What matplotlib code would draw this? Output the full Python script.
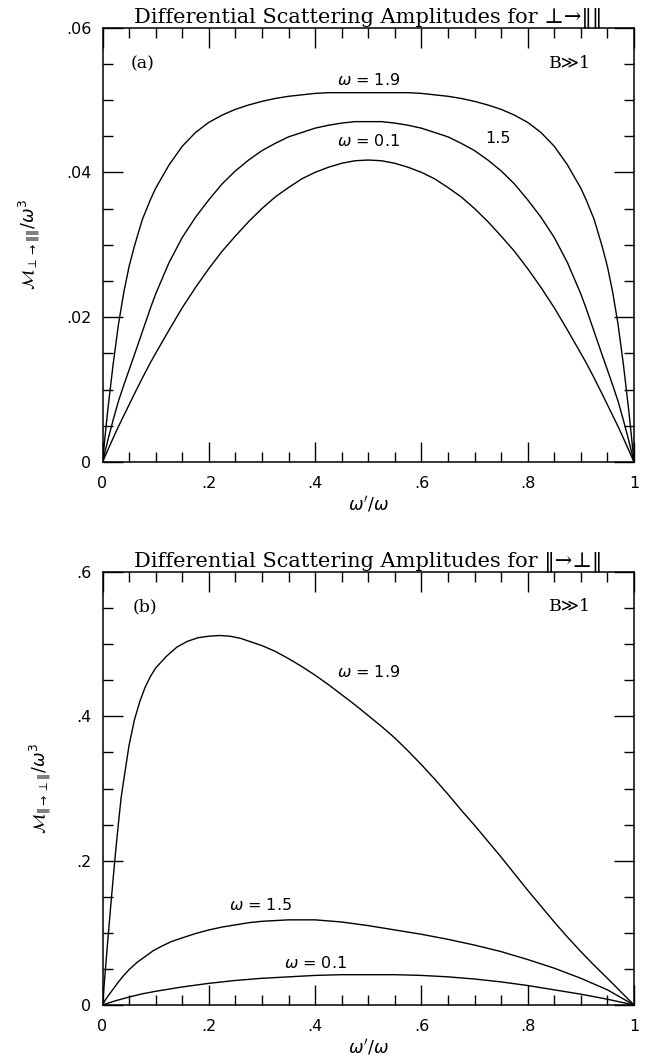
import matplotlib
matplotlib.use("Agg")
import matplotlib.pyplot as plt
from matplotlib.ticker import MultipleLocator, FuncFormatter

# ---------------- data ----------------
# Panel (a): perp -> par (curves are symmetric about 0.5)
xa = [0, 0.005, 0.01, 0.02, 0.03, 0.04, 0.05, 0.06, 0.075, 0.09, 0.1, 0.125, 0.15, 0.175, 0.2, 0.225,
      0.25, 0.275, 0.3, 0.325, 0.35, 0.375, 0.4, 0.425, 0.45, 0.475, 0.5,
      0.525, 0.55, 0.575, 0.6, 0.625, 0.65, 0.675, 0.7, 0.725, 0.75, 0.775, 0.8, 0.825, 0.85, 0.875,
      0.9, 0.91, 0.925, 0.94, 0.95, 0.96, 0.97, 0.98, 0.99, 0.995, 1.0]
a_w19 = [0, 0.0037, 0.0072, 0.0135, 0.019, 0.0234, 0.027, 0.0298, 0.0335, 0.0362, 0.0378, 0.041, 0.0436,
         0.0455, 0.0469, 0.0479, 0.0487, 0.0493, 0.0498, 0.0502, 0.0505, 0.0507, 0.0509, 0.0510, 0.0510,
         0.0510, 0.0510,
         0.0510, 0.0510, 0.0510, 0.0509, 0.0507, 0.0505, 0.0502, 0.0498, 0.0493, 0.0487, 0.0479, 0.0469,
         0.0455, 0.0436, 0.041, 0.0378, 0.0362, 0.0335, 0.0298, 0.027, 0.0234, 0.019, 0.0135, 0.0072,
         0.0037, 0]
a_w15 = [0, 0.0015, 0.003, 0.0058, 0.0084, 0.0106, 0.0127, 0.0148, 0.018, 0.0212, 0.0232, 0.0275, 0.031,
         0.0338, 0.0362, 0.0384, 0.0402, 0.0417, 0.0430, 0.0440, 0.0449, 0.0455, 0.0461, 0.0465, 0.0468,
         0.0470, 0.0470,
         0.0470, 0.0468, 0.0465, 0.0461, 0.0455, 0.0449, 0.0440, 0.0430, 0.0417, 0.0402, 0.0384, 0.0362,
         0.0338, 0.031, 0.0275, 0.0232, 0.0212, 0.018, 0.0148, 0.0127, 0.0106, 0.0084, 0.0058, 0.003,
         0.0015, 0]
a_w01 = [0, 0.00083, 0.00165, 0.0033, 0.0049, 0.0064, 0.0079, 0.0094, 0.0116, 0.0137, 0.015, 0.0182,
         0.0213, 0.0241, 0.0267, 0.0291, 0.0312, 0.0332, 0.035, 0.0366, 0.0379, 0.0391, 0.0400, 0.0407,
         0.04125, 0.0416, 0.0417,
         0.0416, 0.04125, 0.0407, 0.0400, 0.0391, 0.0379, 0.0366, 0.035, 0.0332, 0.0312, 0.0291, 0.0267,
         0.0241, 0.0213, 0.0182, 0.015, 0.0137, 0.0116, 0.0094, 0.0079, 0.0064, 0.0049, 0.0033, 0.00165,
         0.00083, 0]

# Panel (b): par -> perp
xb19 = [0, 0.005, 0.01, 0.015, 0.02, 0.025, 0.03, 0.035, 0.04, 0.05, 0.06, 0.07, 0.08, 0.09, 0.1, 0.12,
        0.14, 0.16, 0.18, 0.2, 0.22, 0.24, 0.26, 0.28, 0.3, 0.325, 0.35, 0.375, 0.4, 0.425, 0.45, 0.475,
        0.5, 0.525, 0.55, 0.575, 0.6, 0.625, 0.65, 0.675, 0.7, 0.725, 0.75, 0.775, 0.8, 0.825, 0.85,
        0.875, 0.9, 0.925, 0.95, 0.975, 1.0]
b_w19 = [0, 0.045, 0.09, 0.133, 0.175, 0.215, 0.252, 0.287, 0.312, 0.36, 0.395, 0.42, 0.44, 0.455, 0.467,
         0.483, 0.496, 0.504, 0.509, 0.511, 0.512, 0.511, 0.508, 0.503, 0.498, 0.490, 0.480, 0.469, 0.457,
         0.444, 0.430, 0.416, 0.401, 0.386, 0.370, 0.352, 0.333, 0.313, 0.292, 0.270, 0.249, 0.227, 0.205,
         0.182, 0.159, 0.137, 0.115, 0.094, 0.074, 0.055, 0.037, 0.0185, 0]
xb15 = [0, 0.005, 0.01, 0.02, 0.03, 0.04, 0.05, 0.065, 0.08, 0.095, 0.11, 0.13, 0.15, 0.175, 0.2, 0.225,
        0.25, 0.275, 0.3, 0.325, 0.35, 0.375, 0.4, 0.45, 0.5, 0.55, 0.6, 0.65, 0.7, 0.75, 0.8, 0.85, 0.9,
        0.95, 1.0]
b_w15 = [0, 0.0065, 0.012, 0.022, 0.032, 0.041, 0.049, 0.059, 0.067, 0.075, 0.081, 0.088, 0.093, 0.099,
         0.104, 0.108, 0.111, 0.114, 0.116, 0.117, 0.118, 0.118, 0.118, 0.115, 0.110, 0.104, 0.098, 0.091,
         0.083, 0.074, 0.063, 0.051, 0.037, 0.021, 0]
xb01 = [0, 0.025, 0.05, 0.075, 0.1, 0.15, 0.2, 0.25, 0.3, 0.35, 0.4, 0.45, 0.5, 0.55, 0.6, 0.65, 0.7,
        0.75, 0.8, 0.85, 0.9, 0.95, 1.0]
b_w01 = [0, 0.006, 0.011, 0.0155, 0.019, 0.025, 0.030, 0.034, 0.037, 0.039, 0.041, 0.042, 0.042, 0.042,
         0.041, 0.039, 0.036, 0.032, 0.027, 0.021, 0.015, 0.008, 0]

titles = ["Differential Scattering Amplitudes for \u22a5\u2192\u2016\u2016",
          "Differential Scattering Amplitudes for \u2016\u2192\u22a5\u2016"]
ylabels = [r"$\mathcal{M}_{\perp\rightarrow\Vert\Vert}/\omega^{3}$",
           r"$\mathcal{M}_{\Vert\rightarrow\perp\Vert}/\omega^{3}$"]
xlabel = r"$\omega^{\prime}/\omega$"

# ---------------- figure ----------------
fig = plt.figure(figsize=(6.52, 10.59), dpi=100)
W, H = 652.0, 1059.0
axA = fig.add_axes([102.5 / W, 1 - 462 / H, (634 - 102.5) / W, (462 - 27.5) / H])
axB = fig.add_axes([102.5 / W, 1 - 1005 / H, (634 - 102.5) / W, (1005 - 572) / H])

serif = ["DejaVu Serif", "DejaVu Sans"]


def fmt(v, pos):
    if abs(v) < 1e-12:
        return "0"
    if abs(v - 1) < 1e-12:
        return "1"
    s = ("%.2f" % v).rstrip("0")
    return s[1:] if s.startswith("0") else s


def style(ax, ymax, ymaj, ymin, title, ylab):
    ax.set_xlim(0, 1)
    ax.set_ylim(0, ymax)
    ax.xaxis.set_major_locator(MultipleLocator(0.2))
    ax.xaxis.set_minor_locator(MultipleLocator(0.05))
    ax.yaxis.set_major_locator(MultipleLocator(ymaj))
    ax.yaxis.set_minor_locator(MultipleLocator(ymin))
    ax.xaxis.set_major_formatter(FuncFormatter(fmt))
    ax.yaxis.set_major_formatter(FuncFormatter(fmt))
    ax.tick_params(which="both", direction="in", top=True, right=True, color="black", width=1.0)
    ax.tick_params(which="major", length=14.4)
    ax.tick_params(which="minor", length=7.2)
    ax.tick_params(axis="x", which="major", pad=10, labelsize=11.5)
    ax.tick_params(axis="y", which="major", pad=8, labelsize=11.5)
    for sp in ax.spines.values():
        sp.set_linewidth(1.1)
    ax.set_title(title, family=serif, fontsize=15, pad=3)
    ax.set_ylabel(ylab, fontsize=12.5, labelpad=17)
    ax.set_xlabel(xlabel, fontsize=12.5, labelpad=2)


lw = 1.0
axA.plot(xa, a_w19, color="black", lw=lw)
axA.plot(xa, a_w15, color="black", lw=lw)
axA.plot(xa, a_w01, color="black", lw=lw)
style(axA, 0.06, 0.02, 0.005, titles[0], ylabels[0])
axA.text(0.075, 0.055, "(a)", family=serif, fontsize=12.5, ha="center", va="center")
axA.text(0.88, 0.055, "B\u226b1", family=serif, fontsize=12.5, ha="center", va="center")
axA.text(0.5, 0.0528, r"$\omega$ = 1.9", fontsize=11.5, ha="center", va="center")
axA.text(0.745, 0.0447, "1.5", fontsize=11.5, ha="center", va="center")
axA.text(0.5, 0.0443, r"$\omega$ = 0.1", fontsize=11.5, ha="center", va="center")

axB.plot(xb19, b_w19, color="black", lw=lw)
axB.plot(xb15, b_w15, color="black", lw=lw)
axB.plot(xb01, b_w01, color="black", lw=lw)
style(axB, 0.6, 0.2, 0.05, titles[1], ylabels[1])
axB.text(0.08, 0.552, "(b)", family=serif, fontsize=12.5, ha="center", va="center")
axB.text(0.88, 0.552, "B\u226b1", family=serif, fontsize=12.5, ha="center", va="center")
axB.text(0.50, 0.461, r"$\omega$ = 1.9", fontsize=11.5, ha="center", va="center")
axB.text(0.297, 0.138, r"$\omega$ = 1.5", fontsize=11.5, ha="center", va="center")
axB.text(0.40, 0.058, r"$\omega$ = 0.1", fontsize=11.5, ha="center", va="center")

fig.savefig("out.png", dpi=100)
